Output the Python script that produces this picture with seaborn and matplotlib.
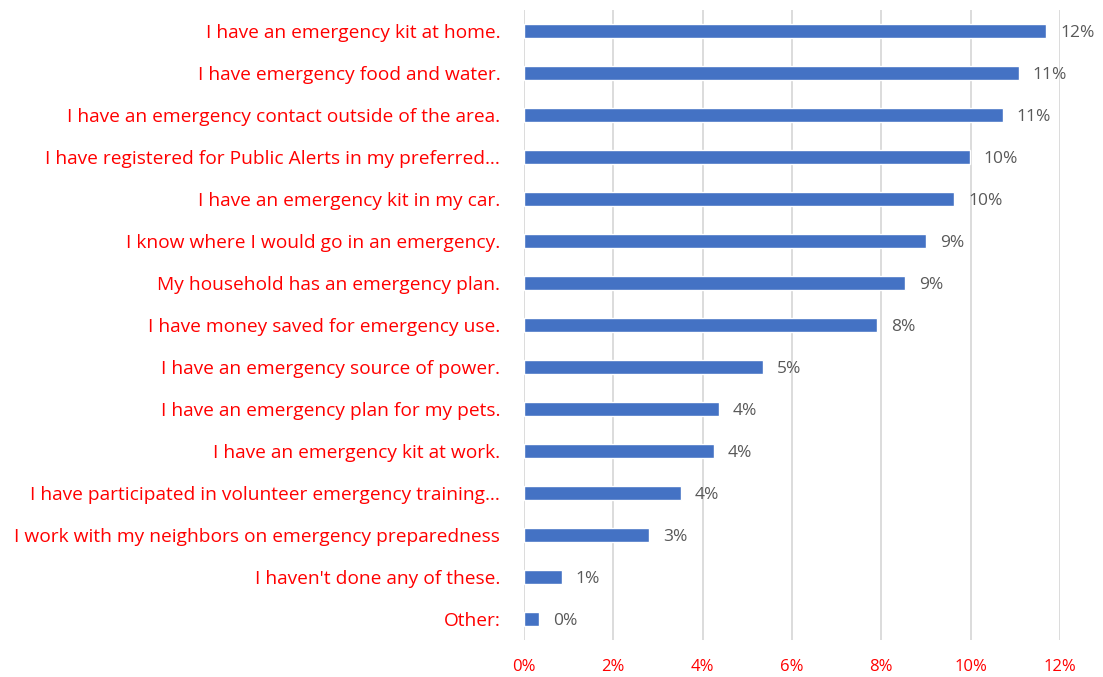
import matplotlib
matplotlib.use("Agg")
import matplotlib.pyplot as plt
import seaborn as sns
import pandas as pd
from matplotlib.ticker import FuncFormatter

categories = [
    "I have an emergency kit at home.",
    "I have emergency food and water.",
    "I have an emergency contact outside of the area.",
    "I have registered for Public Alerts in my preferred\u2026",
    "I have an emergency kit in my car.",
    "I know where I would go in an emergency.",
    "My household has an emergency plan.",
    "I have money saved for emergency use.",
    "I have an emergency source of power.",
    "I have an emergency plan for my pets.",
    "I have an emergency kit at work.",
    "I have participated in volunteer emergency training\u2026",
    "I work with my neighbors on emergency preparedness",
    "I haven't done any of these.",
    "Other:",
]
shares = [11.69, 11.08, 10.72, 9.98, 9.63, 9.00, 8.53, 7.90,
          5.35, 4.37, 4.25, 3.51, 2.80, 0.85, 0.34]
x_ticks = [0, 2, 4, 6, 8, 10, 12]

df = pd.DataFrame({"category": categories, "share": shares})

sns.set_theme(style="white")
plt.rcParams["font.family"] = ["Open Sans", "DejaVu Sans"]

fig = plt.figure(figsize=(11.03, 6.77), dpi=100)
ax = fig.add_axes([0.475, 0.0547, 0.961 - 0.475, 0.985 - 0.0547])

sns.barplot(data=df, x="share", y="category", orient="h", color="#4472C4",
            saturation=1, width=0.35, ax=ax)

ax.set_xlim(0, 12)
ax.set_xticks(x_ticks)
ax.xaxis.set_major_formatter(FuncFormatter(lambda v, _: f"{v:.0f}%"))
ax.grid(axis="x", color="#D9D9D9", linewidth=1.3)
ax.set_axisbelow(True)
for s in ax.spines.values():
    s.set_visible(False)
ax.tick_params(axis="x", length=0, pad=14, labelsize=12, labelcolor="#FF0000")
ax.tick_params(axis="y", length=0, pad=17, labelsize=13.8, labelcolor="#FF0000")
ax.set_xlabel("")
ax.set_ylabel("")

for patch, v in zip(ax.patches, shares):
    y = patch.get_y() + patch.get_height() / 2
    ax.annotate(f"{v:.0f}%", (v, y), xytext=(10, -1.5), textcoords="offset points",
                va="center", ha="left", fontsize=12.5, color="#595959")

fig.savefig("out.png", dpi=100)
